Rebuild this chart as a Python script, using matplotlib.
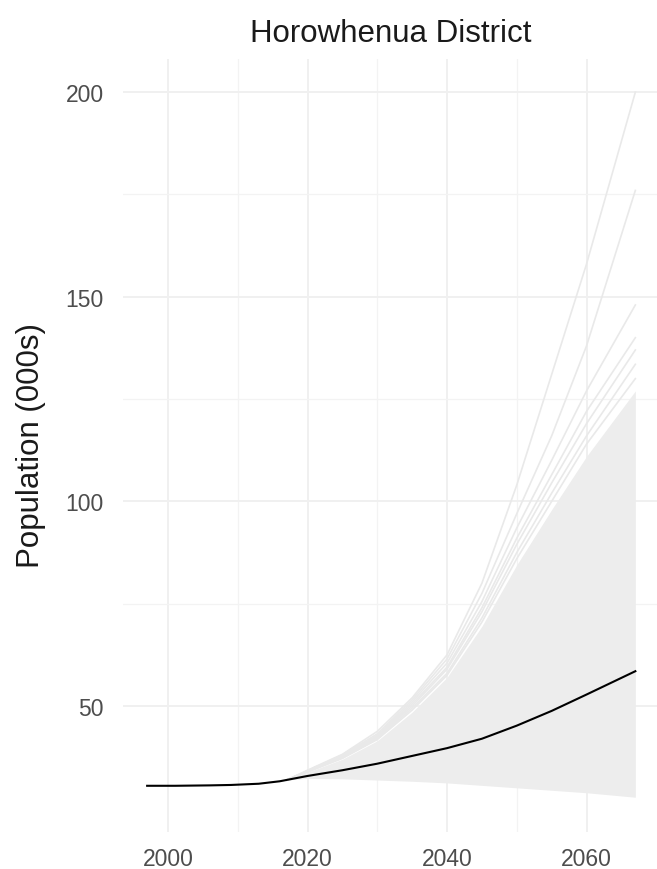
import matplotlib
matplotlib.use("Agg")
import matplotlib.pyplot as plt
import numpy as np

plt.rcParams['font.family'] = ['Liberation Sans', 'DejaVu Sans']

# estimated history + median projection (000s)
med_years = [1997, 2001, 2006, 2009, 2013, 2016, 2020, 2025, 2030, 2035,
             2040, 2045, 2050, 2055, 2060, 2067]
med_pop = [30.5, 30.5, 30.6, 30.7, 31.0, 31.6, 32.9, 34.3, 35.9, 37.8,
           39.7, 42.0, 45.2, 48.8, 52.8, 58.5]

# simulated fan (read at these years)
fan_years = [2017, 2020, 2025, 2030, 2035, 2040, 2045, 2050, 2055, 2060, 2067]
fan_low = [31.9, 32.3, 32.2, 31.9, 31.6, 31.2, 30.6, 30.0, 29.4, 28.8, 27.7]
fan_high = [31.9, 33.8, 37.0, 41.5, 48.5, 57.0, 69.5, 84.5, 98.0, 111.0, 127.0]

sim_a = [31.9, 34.3, 38.2, 43.8, 52.0, 62.5, 80.0, 104.0, 131.0, 158.0, 200.0]
sim_b = [31.9, 34.2, 38.0, 43.2, 51.5, 61.5, 77.5, 97.0, 116.0, 138.0, 176.0]
sim_c = [31.9, 34.1, 37.8, 42.8, 51.0, 60.5, 75.5, 93.5, 110.0, 127.0, 148.0]
sim_d = [31.9, 34.0, 37.6, 42.5, 50.5, 59.5, 74.0, 91.0, 106.5, 122.0, 140.0]
sim_e = [31.9, 34.0, 37.5, 42.3, 50.0, 59.0, 73.0, 89.5, 104.5, 119.0, 137.0]
sim_f = [31.9, 33.9, 37.3, 42.0, 49.5, 58.0, 71.5, 87.5, 102.0, 116.0, 133.5]
sim_g = [31.9, 33.9, 37.2, 41.8, 49.0, 57.5, 70.5, 86.0, 100.0, 114.0, 130.0]
sims = [sim_a, sim_b, sim_c, sim_d, sim_e, sim_f, sim_g]

x_ticks = [2000, 2020, 2040, 2060]
y_ticks = [50, 100, 150, 200]

fig = plt.figure(figsize=(6.57, 8.7), dpi=100)
ax = fig.add_axes([0.1868, 0.0425, 0.8174, 0.8885])

ax.fill_between(fan_years, fan_low, fan_high, color='#ededed', lw=0, zorder=2)
for s in sims:
    ax.plot(fan_years, s, color='#e9e9e9', lw=1.2, zorder=2)
ax.plot(med_years, med_pop, color='black', lw=1.5, zorder=3)

ax.set_xlim(1993.5, 2070.5)
ax.set_ylim(19.2, 208.1)
ax.set_xticks(x_ticks)
ax.set_yticks(y_ticks)
ax.set_xticks([2010, 2030, 2050], minor=True)
ax.set_yticks([75, 125, 175], minor=True)
ax.grid(which='major', color='#f0f0f0', lw=1.4, zorder=0)
ax.grid(which='minor', color='#f3f3f3', lw=0.9, zorder=0)
ax.set_axisbelow(True)
for sp in ax.spines.values():
    sp.set_visible(False)
ax.tick_params(which='both', length=0)
ax.tick_params(axis='y', labelsize=16.5, labelcolor='#4d4d4d', pad=13.5)
ax.tick_params(axis='x', labelsize=16.5, labelcolor='#4d4d4d', pad=11)

fig.text(391/657, 1 - 42/870, 'Horowhenua District', ha='center', va='baseline',
         fontsize=22.5, color='#1a1a1a')
fig.text(31/657, 1 - 445/870, 'Population (000s)', rotation=90, ha='center',
         va='center', fontsize=22.5, color='#1a1a1a')

fig.savefig('out.png', dpi=100)
